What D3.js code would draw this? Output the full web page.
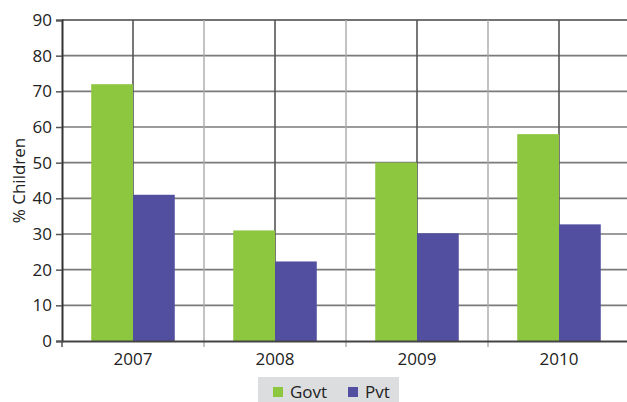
<!DOCTYPE html>
<html>
<head>
<meta charset="utf-8">
<script src="https://cdn.jsdelivr.net/npm/d3@7"></script>
<style>
  body { margin: 0; background: #fff; }
  text { font-family: "Open Sans", sans-serif; fill: #222; }
</style>
</head>
<body>
<svg id="chart"></svg>
<script>
var width = 627;
var height = 402;

var years = ["2007", "2008", "2009", "2010"];
var series = ["Govt", "Pvt"];
var govtValues = [72, 31, 50, 58];
var pvtValues = [41, 22.3, 30.2, 32.7];
var yTicks = [0, 10, 20, 30, 40, 50, 60, 70, 80, 90];
var colors = ["#8dc63f", "#524fa1"];

var margin = {left: 62, top: 20, right: -3, bottom: 61};
var fontSize = "17px";

var svg = d3.select("#chart")
    .attr("width", width)
    .attr("height", height);

var x0 = d3.scaleBand()
    .domain(years)
    .range([margin.left, width - margin.right]);

var x1 = d3.scaleBand()
    .domain(series)
    .range([0, x0.bandwidth()])
    .paddingOuter(0.7);

var y = d3.scaleLinear()
    .domain([0, 90])
    .range([height - margin.bottom, margin.top]);

var valuesBySeries = {Govt: govtValues, Pvt: pvtValues};

// horizontal gridlines
svg.append("g")
  .selectAll("line")
  .data(yTicks.slice(1))
  .join("line")
    .attr("x1", margin.left)
    .attr("x2", width)
    .attr("y1", d => y(d))
    .attr("y2", d => y(d))
    .style("stroke", d => d == 90 ? "#444" : "#7a7a7a")
    .style("stroke-width", 1.6);

// vertical gridlines: light at boundaries, dark at centres
svg.append("g")
  .selectAll("line")
  .data(years.slice(1))
  .join("line")
    .attr("x1", d => x0(d))
    .attr("x2", d => x0(d))
    .attr("y1", y(90))
    .attr("y2", y(0) + 6)
    .style("stroke", "#aaa")
    .style("stroke-width", 1.4);

svg.append("g")
  .selectAll("line")
  .data(years)
  .join("line")
    .attr("x1", d => x0(d) + x0.bandwidth() / 2)
    .attr("x2", d => x0(d) + x0.bandwidth() / 2)
    .attr("y1", y(90))
    .attr("y2", y(0))
    .style("stroke", "#555")
    .style("stroke-width", 1.6);

// bars
var groups = svg.append("g")
  .selectAll("g")
  .data(years)
  .join("g")
    .attr("transform", d => "translate(" + x0(d) + ",0)");

groups.selectAll("rect")
  .data((d, i) => series.map((s, j) => ({key: s, value: valuesBySeries[s][i], c: colors[j]})))
  .join("rect")
    .attr("x", d => x1(d.key))
    .attr("width", x1.bandwidth())
    .attr("y", d => y(d.value))
    .attr("height", d => y(0) - y(d.value))
    .style("fill", d => d.c);

// y axis
var yAxis = svg.append("g")
    .attr("transform", "translate(" + margin.left + ",0)")
    .call(d3.axisLeft(y).tickValues(yTicks).tickSize(6).tickPadding(4));
yAxis.select(".domain").style("stroke", "#333").style("stroke-width", 2);
yAxis.selectAll(".tick line").style("stroke", "#555").style("stroke-width", 1.5);
yAxis.selectAll("text").style("font-size", fontSize).style("font-family", "Open Sans").style("fill", "#222");

// x axis
var xAxis = svg.append("g")
    .attr("transform", "translate(0," + y(0) + ")")
    .call(d3.axisBottom(x0).tickSize(0).tickPadding(12));
xAxis.select(".domain").style("stroke", "#444").style("stroke-width", 2);
xAxis.selectAll("text").style("font-size", fontSize).style("font-family", "Open Sans").style("fill", "#222");

svg.append("line")
    .attr("x1", margin.left)
    .attr("x2", margin.left)
    .attr("y1", y(0))
    .attr("y2", y(0) + 6)
    .style("stroke", "#555")
    .style("stroke-width", 1.5);

// axis title
svg.append("text")
    .attr("transform", "translate(25," + (y(45)) + ") rotate(-90)")
    .attr("text-anchor", "middle")
    .style("font-size", fontSize)
    .text("% Children");

// legend
var legend = svg.append("g").attr("transform", "translate(258,377)");
legend.append("rect")
    .attr("width", 141)
    .attr("height", 26)
    .style("fill", "#dcdddf");

var items = legend.selectAll("g.item")
  .data(series)
  .join("g")
    .attr("class", "item")
    .attr("transform", (d, i) => "translate(" + (15 + i * 75) + ",0)");

items.append("rect")
    .attr("y", 10)
    .attr("width", 10)
    .attr("height", 10)
    .style("fill", (d, i) => colors[i]);

items.append("text")
    .attr("x", 17)
    .attr("y", 21)
    .style("font-size", fontSize)
    .text(d => d);
</script>
</body>
</html>
